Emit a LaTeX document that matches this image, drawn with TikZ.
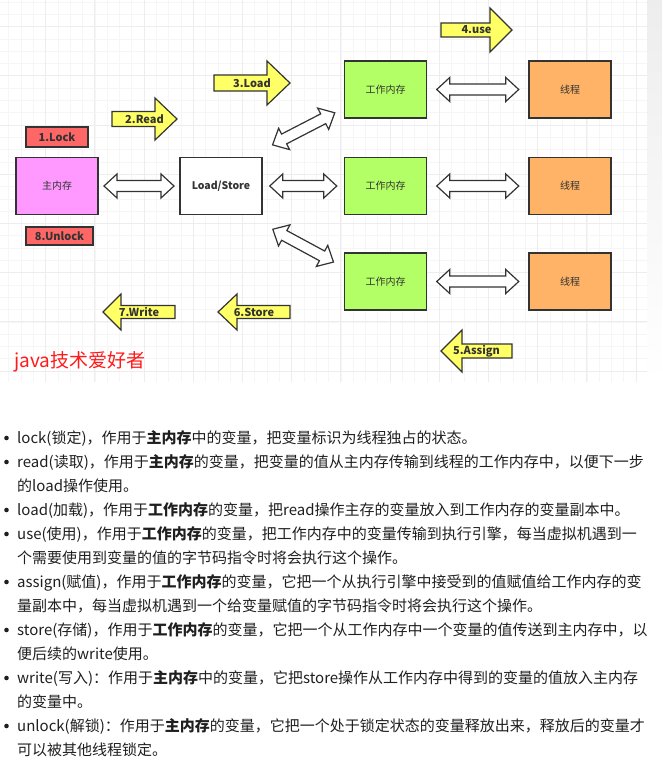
\documentclass[tikz,border=0pt]{standalone}
\usepackage{fontspec}
\setmainfont{Noto Sans CJK SC}
\usetikzlibrary{calc}
\definecolor{memPink}{HTML}{FF99FF}
\definecolor{wmGreen}{HTML}{B3FF66}
\definecolor{thrOrange}{HTML}{FFB366}
\definecolor{lockRed}{HTML}{FF6666}
\definecolor{opYellow}{HTML}{FFFF66}
\definecolor{edgeGray}{HTML}{333333}
\definecolor{txtGray}{HTML}{333333}
\definecolor{txtBlack}{HTML}{1F1F1F}
\definecolor{javaRed}{HTML}{FF1A1A}
\tikzset{
	box/.style={draw=edgeGray, line width=1.3pt, inner sep=0pt, minimum width=82pt, minimum height=57pt, text=txtGray, font=\fontsize{10}{12}\selectfont},
	tag/.style={draw=edgeGray, line width=1.2pt, fill=lockRed, inner sep=0pt, text=txtGray, font=\bfseries\fontsize{11}{13}\selectfont},
	oparrow/.style={draw=edgeGray, line width=1.2pt, fill=opYellow},
	oplabel/.style={inner sep=0pt, text=txtGray, font=\bfseries\fontsize{11}{13}\selectfont},
	dblarrow/.style={draw=edgeGray, line width=1.2pt, fill=white},
	pics/dbl/.style={code={
		\draw[dblarrow] (-#1/2,0) -- (-#1/2+13,12) -- (-#1/2+13,5.5) -- (#1/2-13,5.5) -- (#1/2-13,12) -- (#1/2,0)
		-- (#1/2-13,-12) -- (#1/2-13,-5.5) -- (-#1/2+13,-5.5) -- (-#1/2+13,-12) -- cycle;
	}},
	minorline/.style={gray!7, line width=0.8pt},
	majorline/.style={gray!14, line width=1pt},
	listline/.style={anchor=base west, inner sep=0pt, text=txtBlack, font=\fontsize{15}{18}\selectfont},
	dot/.style={circle, fill=txtBlack, inner sep=0pt, minimum size=4.6pt}
}
\begin{document}
\begin{tikzpicture}[x=1pt,y=1pt]
			\useasboundingbox (0,0) rectangle (662,-770);
			% grid paper
			\shade[top color=gray!14, bottom color=white] (647,0) rectangle (662,-382);
			\begin{scope}
				\clip (0,0) rectangle (647,-382);
				\foreach \k in {0,...,51} \draw[minorline] ({8.8+12.3*\k},0) -- ++(0,-382);
				\foreach \k in {0,...,30} \draw[minorline] (0,{-2.1-12.3*\k}) -- ++(647,0);
				\foreach \k in {0,...,12} \draw[majorline] ({45.7+49.2*\k},0) -- ++(0,-382);
				\foreach \k in {0,...,7} \draw[majorline] (0,{-26.7-49.2*\k}) -- ++(647,0);
			\end{scope}
			% memories
			\node[box, fill=memPink] (main) at (57,-186) {主内存};
			\node[box, fill=white, font=\bfseries\fontsize{10.5}{12}\selectfont] (ls) at (221,-186) {Load/Store};
			\node[tag, minimum width=62pt, minimum height=20pt] (lock) at (57,-137) {1.Lock};
			\node[tag, minimum width=67pt, minimum height=18pt] (unlock) at (59.5,-236) {8.Unlock};
			\foreach \i/\y in {1/-89.5,2/-186,3/-281.5} {
				\node[box, fill=wmGreen] (wm\i) at (385.5,\y) {工作内存};
				\node[box, fill=thrOrange] (thr\i) at (570,\y) {线程};
				\pic at ($(wm\i.east)!.5!(thr\i.west)$) {dbl=82};
			}
			\pic at ($(main.east)!.5!(ls.west)$) {dbl=70};
			\pic at ($(ls.east)!.5!(wm2.west)$) {dbl=67};
			\pic[rotate=27.3] at ($(ls.north east)+(41,28)$) {dbl=70};
			\pic[rotate=-28.4] at ($(ls.south east)+(40.5,-30.5)$) {dbl=69};
			% operations
			\foreach \nm/\tl/\bs/\tp/\cy/\sh/\hh/\lbl in {read/112/155/177/-119/7.5/21/2.Read, load/214/267/290/-83/8/22/3.Load, use/441/490/512/-30/7/22/4.use, assign/512/462/441/-351/7/21/5.Assign, store/290/237/218/-312/6.5/18/6.Store, write/175/121/103/-312/6.5/18/7.Write} {
				\draw[oparrow] (\tl,\cy+\sh) -- (\bs,\cy+\sh) -- (\bs,\cy+\hh) -- (\tp,\cy) -- (\bs,\cy-\hh) -- (\bs,\cy-\sh) -- (\tl,\cy-\sh) -- cycle;
				\node[oplabel] (op-\nm) at ({(\tl+\tp)/2},\cy) {\lbl};
			}
			\node[anchor=west, inner sep=0pt, text=javaRed, font=\fontsize{19}{23}\selectfont] (brand) at (14,-362) {java技术爱好者};
			% list below
			\foreach \i/\y in {1/443,2/467,3/515,4/539,5/587,6/635,7/683,8/731} \node[dot] (dot\i) at (6.5,{-\y+5}) {};
			\node[listline] (l1) at (17,-443) {lock(锁定)，作用于\textbf{主内存}中的变量，把变量标识为线程独占的状态。};
			\node[listline] (l2a) at (17,-467) {read(读取)，作用于\textbf{主内存}的变量，把变量的值从主内存传输到线程的工作内存中，以便下一步};
			\node[listline] (l2b) at (17,-491) {的load操作使用。};
			\node[listline] (l3) at (17,-515) {load(加载)，作用于\textbf{工作内存}的变量，把read操作主存的变量放入到工作内存的变量副本中。};
			\node[listline] (l4a) at (17,-539) {use(使用)，作用于\textbf{工作内存}的变量，把工作内存中的变量传输到执行引擎，每当虚拟机遇到一};
			\node[listline] (l4b) at (17,-563) {个需要使用到变量的值的字节码指令时将会执行这个操作。};
			\node[listline] (l5a) at (17,-587) {assign(赋值)，作用于\textbf{工作内存}的变量，它把一个从执行引擎中接受到的值赋值给工作内存的变};
			\node[listline] (l5b) at (17,-611) {量副本中，每当虚拟机遇到一个给变量赋值的字节码指令时将会执行这个操作。};
			\node[listline] (l6a) at (17,-635) {store(存储)，作用于\textbf{工作内存}的变量，它把一个从工作内存中一个变量的值传送到主内存中，以};
			\node[listline] (l6b) at (17,-659) {便后续的write使用。};
			\node[listline] (l7a) at (17,-683) {write(写入)：作用于\textbf{主内存}中的变量，它把store操作从工作内存中得到的变量的值放入主内存};
			\node[listline] (l7b) at (17,-707) {的变量中。};
			\node[listline] (l8a) at (17,-731) {unlock(解锁)：作用于\textbf{主内存}的变量，它把一个处于锁定状态的变量释放出来，释放后的变量才};
			\node[listline] (l8b) at (17,-755) {可以被其他线程锁定。};
		\end{tikzpicture}
\end{document}
